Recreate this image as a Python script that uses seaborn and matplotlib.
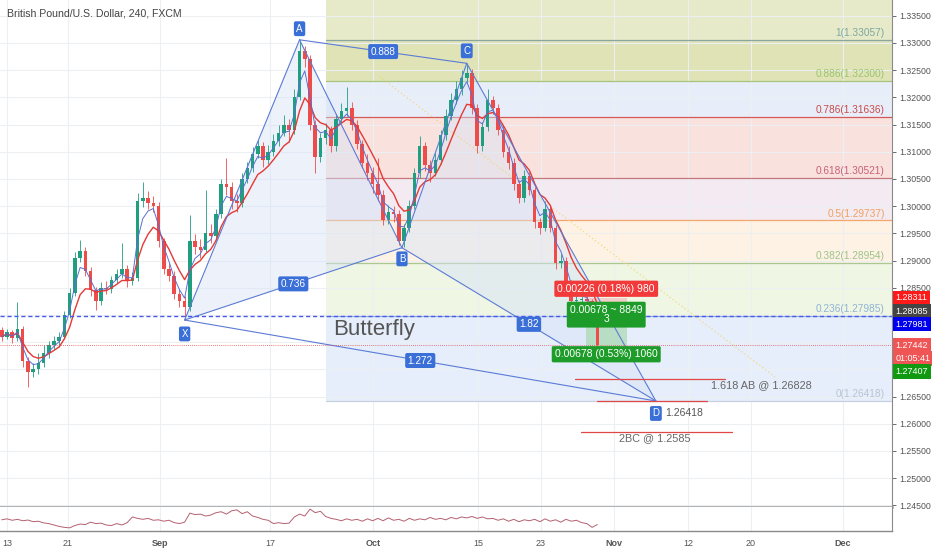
import numpy as np
import pandas as pd
import seaborn as sns
import matplotlib.pyplot as plt
import matplotlib.transforms as mtransforms
from matplotlib.patches import Polygon, Rectangle

title = "British Pound/U.S. Dollar, 240, FXCM"

# 12h candles (x = business days since Aug 13)
first_open = 1.2772
close = [1.2760, 1.2768, 1.2758, 1.2775, 1.2715, 1.2695, 1.2700, 1.2712, 1.2730, 1.2745,
         1.2752, 1.2760, 1.2800, 1.2840, 1.2905, 1.2918, 1.2880, 1.2845, 1.2825, 1.2850,
         1.2848, 1.2865, 1.2875, 1.2885, 1.2862, 1.2868, 1.3010, 1.3015, 1.3005, 1.3000,
         1.2935, 1.2885, 1.2872, 1.2838, 1.2825, 1.2815, 1.2935, 1.2925, 1.2920, 1.2950,
         1.2945, 1.2985, 1.3040, 1.3035, 1.3010, 1.3005, 1.3050, 1.3070, 1.3095, 1.3110,
         1.3085, 1.3100, 1.3120, 1.3135, 1.3150, 1.3140, 1.3200, 1.3285, 1.3270, 1.3150,
         1.3090, 1.3125, 1.3140, 1.3110, 1.3160, 1.3175, 1.3180, 1.3150, 1.3115, 1.3080,
         1.3060, 1.3040, 1.3020, 1.2975, 1.2990, 1.2985, 1.2935, 1.2960, 1.3000, 1.3060,
         1.3110, 1.3075, 1.3060, 1.3085, 1.3130, 1.3165, 1.3195, 1.3215, 1.3235, 1.3245,
         1.3180, 1.3110, 1.3145, 1.3195, 1.3180, 1.3140, 1.3100, 1.3080, 1.3040, 1.3015,
         1.3055, 1.3030, 1.2970, 1.2960, 1.2995, 1.2960, 1.2895, 1.2900, 1.2860, 1.2826,
         1.2828, 1.2830, 1.2826, 1.2798, 1.2744]
high = [1.2778, 1.2775, 1.2772, 1.2824, 1.2780, 1.2722, 1.2712, 1.2730, 1.2745, 1.2752,
        1.2762, 1.2768, 1.2808, 1.2850, 1.2915, 1.2938, 1.2925, 1.2888, 1.2852, 1.2860,
        1.2862, 1.2872, 1.2885, 1.2932, 1.2892, 1.2878, 1.3024, 1.3045, 1.3028, 1.3018,
        1.3008, 1.2942, 1.2895, 1.2880, 1.2848, 1.2835, 1.2983, 1.2948, 1.2940, 1.3029,
        1.2968, 1.2995, 1.3050, 1.3088, 1.3045, 1.3022, 1.3060, 1.3082, 1.3108, 1.3122,
        1.3118, 1.3112, 1.3132, 1.3150, 1.3168, 1.3160, 1.3215, 1.3306, 1.3295, 1.3278,
        1.3158, 1.3135, 1.3152, 1.3148, 1.3170, 1.3190, 1.3219, 1.3192, 1.3158, 1.3122,
        1.3095, 1.3072, 1.3088, 1.3030, 1.3002, 1.3000, 1.2992, 1.2968, 1.3012, 1.3070,
        1.3128, 1.3118, 1.3085, 1.3098, 1.3140, 1.3178, 1.3208, 1.3230, 1.3250, 1.3262,
        1.3252, 1.3188, 1.3155, 1.3215, 1.3202, 1.3188, 1.3148, 1.3110, 1.3088, 1.3048,
        1.3066, 1.3062, 1.3036, 1.2978, 1.3010, 1.3000, 1.2965, 1.2912, 1.2906, 1.2865,
        1.2838, 1.2840, 1.2836, 1.2830, 1.2800]
low = [1.2752, 1.2755, 1.2748, 1.2752, 1.2705, 1.2668, 1.2685, 1.2692, 1.2705, 1.2720,
       1.2738, 1.2741, 1.2755, 1.2795, 1.2835, 1.2898, 1.2872, 1.2835, 1.2809, 1.2818,
       1.2838, 1.2840, 1.2858, 1.2868, 1.2852, 1.2855, 1.2862, 1.2998, 1.2995, 1.2990,
       1.2925, 1.2875, 1.2862, 1.2830, 1.2815, 1.2790, 1.2808, 1.2912, 1.2905, 1.2915,
       1.2932, 1.2938, 1.2978, 1.3020, 1.2995, 1.2990, 1.2998, 1.3042, 1.3062, 1.3088,
       1.3072, 1.3078, 1.3092, 1.3110, 1.3128, 1.3118, 1.3132, 1.3195, 1.3255, 1.3140,
       1.3061, 1.3082, 1.3115, 1.3100, 1.3102, 1.3152, 1.3165, 1.3140, 1.3105, 1.3070,
       1.3048, 1.3025, 1.3010, 1.2965, 1.2968, 1.2970, 1.2928, 1.2924, 1.2952, 1.2995,
       1.3052, 1.3065, 1.3045, 1.3055, 1.3078, 1.3122, 1.3158, 1.3188, 1.3205, 1.3228,
       1.3170, 1.3098, 1.3102, 1.3138, 1.3170, 1.3130, 1.3090, 1.3068, 1.3030, 1.3005,
       1.3008, 1.3020, 1.2960, 1.2948, 1.2955, 1.2952, 1.2885, 1.2886, 1.2850, 1.2818,
       1.2820, 1.2822, 1.2818, 1.2792, 1.2740]
osc = [46, 50, 44, 48, 42, 45, 38, 40, 33, 30, 24, 18, 14, 12, 22, 28, 26, 36, 30, 32,
       24, 22, 30, 24, 34, 58, 52, 48, 52, 44, 46, 40, 44, 34, 30, 36, 74, 68, 70, 62,
       66, 76, 80, 70, 84, 88, 72, 80, 62, 56, 48, 44, 30, 34, 30, 32, 58, 70, 62, 91,
       76, 82, 60, 52, 48, 42, 50, 44, 48, 40, 50, 42, 52, 42, 54, 44, 48, 40, 52, 44,
       50, 46, 56, 48, 52, 46, 56, 50, 58, 54, 60, 52, 58, 50, 52, 44, 50, 40, 48, 38,
       46, 42, 48, 38, 50, 40, 46, 36, 48, 40, 44, 34, 30, 14, 26]

tick_pos = [0, 5.8, 14.6, 25.2, 35.0, 45.1, 51.1, 58.1, 65.2, 71.2, 80.0]
tick_lab = ["13", "21", "Sep", "17", "Oct", "15", "23", "Nov", "12", "20", "Dec"]
months = {"Sep", "Oct", "Nov", "Dec"}

# harmonic pattern
pat_names = ["X", "A", "B", "C", "D"]
pat_x = [17.0, 28.0, 37.8, 44.0, 62.1]
pat_y = [1.27906, 1.33057, 1.29235, 1.32625, 1.26418]
ratio_legs = [("A", "C", "0.888"), ("X", "B", "0.736"), ("B", "D", "1.82"), ("X", "D", "1.272")]

# fibonacci retracement (D -> A)
fib_start = 30.5
fib_levels = ["1", "0.886", "0.786", "0.618", "0.5", "0.382", "0.236", "0"]
fib_prices = [1.33057, 1.32300, 1.31636, 1.30521, 1.29737, 1.28954, 1.27985, 1.26418]
fib_line_col = ["#8aa6a2", "#a6c47c", "#d45a5a", "#c8727a", "#f4a66c", "#a9c892", "#8fb2d6", "#c6d0de"]
fib_text_col = ["#7fa8a0", "#9cc46e", "#c84a4a", "#c8607a", "#f0a060", "#9cc48a", "#90b4d4", "#b8c4d4"]
fib_fill = ["#dfe3b6", "#e7eef9", "#f9e2de", "#f3eaf2", "#fef2e4", "#eff6e4", "#e5eefa"]

# projections
proj_txt = ["1.618 AB @ 1.26828", "", "2BC @ 1.2585"]
proj_val = [1.26828, 1.26418, 1.2585]
proj_x0 = [54.4, 56.5, 54.9]
proj_x1 = [68.7, 67.0, 69.4]
proj_tx = [72.2, None, 62.0]

# short position tool
pos_x0, pos_x1 = 55.4, 59.3
entry, stop, target = 1.28085, 1.28311, 1.27407
alert_line = 1.27981
last_price = 1.27442
countdown = "01:05:41"

sns.set_style("white")
plt.rcParams["font.family"] = ["Liberation Sans", "DejaVu Sans"]

bx = -0.5 + 0.5 * np.arange(len(close))
opens = [first_open] + close[:-1]

fig = plt.figure(figsize=(9.32, 5.5), dpi=100)
ax = fig.add_axes([0, 43 / 550, 892 / 932, 507 / 550])
ax2 = fig.add_axes([0, 19.3 / 550, 892 / 932, 23.7 / 550])

xlim = (-0.67, 84.7)
ax.set_xlim(*xlim)
ax.set_ylim(1.24469, 1.33789)

# fib shading and levels
ax.add_patch(Rectangle((fib_start, fib_prices[0]), xlim[1] - fib_start, 0.01,
                       fc="#e6eac8", ec="none", zorder=0))
for i in range(len(fib_prices) - 1):
    ax.add_patch(Rectangle((fib_start, fib_prices[i + 1]), xlim[1] - fib_start,
                           fib_prices[i] - fib_prices[i + 1], fc=fib_fill[i], ec="none", zorder=0))
for lvl, p, lc, tc in zip(fib_levels, fib_prices, fib_line_col, fib_text_col):
    ax.plot([fib_start, xlim[1]], [p, p], color=lc, lw=0.9, zorder=1)
    ax.text(84.0, p + 0.0003, f"{lvl}({p:.5f})", color=tc, fontsize=7.3,
            ha="right", va="bottom", zorder=2)

# pattern triangles
P = {n: (x, y) for n, x, y in zip(pat_names, pat_x, pat_y)}
for tri in (["X", "A", "B"], ["B", "C", "D"]):
    ax.add_patch(Polygon([P[n] for n in tri], closed=True, fc="#d6e2f6", ec="none",
                         alpha=0.45, zorder=1))

# candles
for x, o, h, l, c in zip(bx, opens, high, low, close):
    col = "#1f9e80" if c >= o else "#ee4b4b"
    ax.vlines(x, l, h, color=col, lw=0.6, zorder=3)
    ax.add_patch(Rectangle((x - 0.17, min(o, c)), 0.34, max(abs(c - o), 0.00012),
                           fc=col, ec="none", zorder=3))

ema_slow = pd.Series(close).ewm(span=7).mean()
ema_fast = pd.Series(close).ewm(span=3).mean()
sns.lineplot(x=bx, y=ema_slow.values, ax=ax, color="#e53935", lw=1.0, estimator=None, zorder=4)
sns.lineplot(x=bx, y=ema_fast.values, ax=ax, color="#5a6fd0", lw=0.7, estimator=None, zorder=4)

# pattern lines
pc = "#5b7bd5"
for a, b in [("X", "A"), ("A", "B"), ("B", "X"), ("B", "C"), ("C", "D"), ("D", "B"),
             ("A", "C"), ("X", "D")]:
    ax.plot([P[a][0], P[b][0]], [P[a][1], P[b][1]], color=pc, lw=0.8, zorder=5)

box = dict(boxstyle="round,pad=0.25,rounding_size=0.2", fc="#3b6fd8", ec="none")
offs = {"X": (0, -10), "A": (0, 8), "B": (0, -8), "C": (0, 9), "D": (0, -9)}
for n in pat_names:
    ax.annotate(n, P[n], xytext=offs[n], textcoords="offset points", ha="center",
                va="center", fontsize=7, color="white", bbox=box, zorder=7)
ax.annotate(f"{pat_y[4]:.5f}", P["D"], xytext=(7, -9), textcoords="offset points",
            ha="left", va="center", fontsize=7.5, color="#555555", zorder=7)
for a, b, t in ratio_legs:
    mx = (P[a][0] + P[b][0]) / 2
    my = (P[a][1] + P[b][1]) / 2
    ax.text(mx, my, t, ha="center", va="center", fontsize=7.2, color="white",
            bbox=box, zorder=7)
ax.text(31.2, 1.2773, "Butterfly", fontsize=16, color="#555555", ha="left",
        va="center", zorder=6)

# faint dotted trend line
ax.plot([35.7, 73.5], [1.32373, 1.26859], color="#f2d46a", lw=0.9, ls=(0, (1, 2)),
        alpha=0.8, zorder=2)

# full width lines
ax.axhline(alert_line, color="#4a5ae8", lw=1.0, ls=(0, (3, 2)), zorder=5)
ax.axhline(last_price, color="#e05050", lw=0.6, ls=(0, (1, 1.5)), zorder=5)

# projection lines
for t, v, x0, x1, tx in zip(proj_txt, proj_val, proj_x0, proj_x1, proj_tx):
    ax.plot([x0, x1], [v, v], color="#e04848", lw=0.9, zorder=5)
    if t:
        ax.text(tx, v - 0.0012, t, ha="center", va="center", fontsize=7.8,
                color="#666666", zorder=6)

# position tool
ax.add_patch(Rectangle((pos_x0, entry), pos_x1 - pos_x0, stop - entry, fc="#f4b4b4",
                       ec="none", alpha=0.6, zorder=2))
ax.add_patch(Rectangle((pos_x0, target), pos_x1 - pos_x0, entry - target, fc="#9fd6a4",
                       ec="none", alpha=0.6, zorder=2))
pmid = (pos_x0 + pos_x1) / 2
risk = stop - entry
reward = entry - target
ax.text(pmid, stop + 0.0017, f"{risk:.5f} ({risk / entry * 100:.2f}%) 980", ha="center",
        va="center", fontsize=7.5, color="white", zorder=8,
        bbox=dict(boxstyle="round,pad=0.3,rounding_size=0.15", fc="#f23a3a", ec="none"))
ax.text(pmid, entry - 0.0008, f"{reward:.5f} ~ 8849\n3", ha="center", va="center",
        fontsize=7.5, color="white", linespacing=0.95, zorder=8,
        bbox=dict(boxstyle="round,pad=0.3,rounding_size=0.15", fc="#1d9c2a", ec="none"))
ax.text(pmid, target - 0.0013, f"{reward:.5f} ({reward / entry * 100:.2f}%) 1060",
        ha="center", va="center", fontsize=7.5, color="white", zorder=8,
        bbox=dict(boxstyle="round,pad=0.3,rounding_size=0.15", fc="#1d9c2a", ec="none"))

# price tags on the axis, stacked so they do not overlap
tags = [(stop, f"{stop:.5f}", "#ff1a1a"), (entry, f"{entry:.5f}", "#444444"),
        (alert_line, f"{alert_line:.5f}", "#0000ee"), (last_price, f"{last_price:.5f}", "#f05555"),
        (last_price, countdown, "#f05555"), (target, f"{target:.5f}", "#119911")]
tag_y = []
prev = None
for v, t, c in tags:
    yv = v if prev is None else min(v, prev - 0.0024)
    prev = yv
    tag_y.append(yv)

# axes styling
yt = np.round(np.arange(1.245, 1.3351, 0.005), 3)
ax.set_xticks(tick_pos)
ax.set_yticks(yt)
ax.set_yticklabels(["" if min(abs(t - y) for y in tag_y) < 0.0017 else f"{t:.5f}" for t in yt])
ax.yaxis.tick_right()
ax.tick_params(axis="y", labelsize=6.3, colors="#555555", length=3, pad=2, width=0.6)
ax.tick_params(axis="x", length=0, labelbottom=False)
ax.grid(True, color="#edf0f3", lw=0.8)
ax.set_axisbelow(True)
for s in ("left", "top"):
    ax.spines[s].set_visible(False)
ax.spines["right"].set_color("#8a8a8a")
ax.spines["right"].set_linewidth(0.8)
ax.spines["bottom"].set_color("#9a9a9a")
ax.spines["bottom"].set_linewidth(1.8)

trans = mtransforms.blended_transform_factory(ax.transAxes, ax.transData)
for yv, (v, t, c) in zip(tag_y, tags):
    ax.text(1.004, yv, t, transform=trans, ha="left", va="center", fontsize=6.5,
            color="white", clip_on=False, zorder=20,
            bbox=dict(boxstyle="square,pad=0.3", fc=c, ec="none"))

fig.text(7 / 932, 1 - 13 / 550, title, fontsize=7.6, color="#444444", ha="left", va="center")

# indicator pane
sns.lineplot(x=bx, y=osc, ax=ax2, color="#b5606f", lw=0.7, estimator=None)
ax2.set_xlim(*xlim)
ax2.set_ylim(0, 100)
ax2.set_xticks(tick_pos)
ax2.set_xticklabels(tick_lab)
ax2.set_yticks([])
ax2.tick_params(axis="x", labelsize=6.5, colors="#555555", length=3, pad=3, width=0.6)
for lab in ax2.get_xticklabels():
    if lab.get_text() in months:
        lab.set_fontweight("bold")
ax2.grid(True, axis="x", color="#edf0f3", lw=0.8)
ax2.set_axisbelow(True)
ax2.spines["left"].set_visible(False)
ax2.spines["top"].set_visible(False)
ax2.spines["right"].set_color("#8a8a8a")
ax2.spines["right"].set_linewidth(0.8)
ax2.spines["bottom"].set_color("#8a8a8a")
ax2.spines["bottom"].set_linewidth(1.0)

fig.savefig("out.png", dpi=100)
